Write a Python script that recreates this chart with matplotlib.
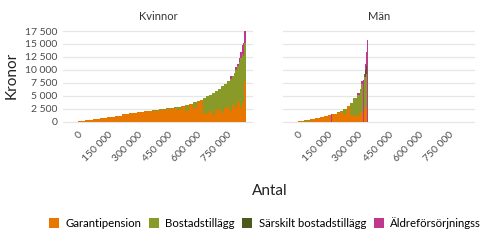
import numpy as np
import matplotlib.pyplot as plt
from matplotlib.ticker import FuncFormatter

plt.rcParams['font.family'] = ['Lato', 'DejaVu Sans']

# Kvinnor: group width (antal) and stacked amounts (kronor)
k_antal = [37000] * 13 + [19000, 20000, 20000, 20000, 20000, 20000,
                          15000, 15000, 15000, 15000, 15000, 15000, 15000, 15000, 15000, 15000,
                          12000, 10000, 10000, 10000, 8000, 8000, 8000, 8000, 7000, 6000, 7000]
k_garanti = [190, 380, 580, 770, 960, 1150, 1410, 1600, 1800, 2000, 2150, 2330, 2500,
             2650, 2300, 3000, 2000, 3350, 2600,
             3850, 4150, 1500, 1700, 2000, 1300, 2200, 2400, 1600, 2600,
             2900, 2100, 3200, 3500, 2600, 3800, 4000, 2600, 3600, 3800, 7750]
k_bostad = [0, 0, 0, 0, 0, 0, 0, 0, 0, 50, 90, 100, 130,
            100, 600, 100, 1300, 150, 1150,
            100, 100, 3050, 3200, 3250, 4300, 3800, 4000, 5250, 4750,
            5000, 6200, 5600, 5900, 7400, 6900, 7500, 9600, 9400, 8800, 7350]
k_sarskilt = [0] * 40
k_aldre = [0] * 30 + [600, 0, 0, 600, 500, 800, 1300, 1800, 2500, 2400]

# Män
m_antal = [28000, 29000, 25000, 25000, 20000, 21000, 17000, 5000, 22000, 16000, 17000,
           17000, 15000, 17000, 17000, 15000, 9000, 8000, 3000, 7000, 7000, 5000, 5000]
m_garanti = [190, 150, 510, 700, 900, 1090, 1280, 0, 1540, 1700, 1900,
             1500, 3000, 1280, 1100, 1300, 1600, 1900, 0, 2500, 2760, 2800, 0]
m_bostad = [0, 170, 0, 0, 0, 0, 0, 0, 0, 100, 150,
            870, 0, 2370, 3390, 3950, 4800, 5470, 0, 6150, 5900, 6500, 0]
m_sarskilt = [0] * 20 + [1300, 1500, 0]
m_aldre = [0] * 7 + [1500] + [0] * 7 + [200, 0, 500, 8000, 650, 1240, 2660, 15700]

serier = ['Garantipension', 'Bostadstillägg', 'Särskilt bostadstillägg', 'Äldreförsörjningsstöd']
farger = ['#E87700', '#8A9A29', '#4D5A1E', '#BE388C']
xticks = [0, 150000, 300000, 450000, 600000, 750000]
yticks = [0, 2500, 5000, 7500, 10000, 12500, 15000, 17500]

paneler = [
    ('Kvinnor', k_antal, [k_garanti, k_bostad, k_sarskilt, k_aldre]),
    ('Män', m_antal, [m_garanti, m_bostad, m_sarskilt, m_aldre]),
]

fmt = FuncFormatter(lambda v, p: f"{v:,.0f}".replace(",", " "))

fig = plt.figure(figsize=(4.8, 2.4), dpi=100)
axes = [fig.add_axes([63 / 480, 0.482, 190 / 480, 0.406]),
        fig.add_axes([283 / 480, 0.482, 192 / 480, 0.406])]

for ax, (titel, antal, delar) in zip(axes, paneler):
    antal = np.array(antal)
    left = np.concatenate([[0], np.cumsum(antal)[:-1]])
    bottom = np.zeros(len(antal))
    for vals, namn, farg in zip(delar, serier, farger):
        vals = np.array(vals, dtype=float)
        ax.bar(left, vals, width=antal, bottom=bottom, align='edge',
               color=farg, linewidth=0, label=namn)
        bottom += vals
    ax.set_xlim(-75000, 880000)
    ax.set_ylim(-500, 18300)
    ax.set_xticks(xticks)
    ax.set_yticks(yticks)
    ax.xaxis.set_major_formatter(fmt)
    ax.yaxis.set_major_formatter(fmt)
    ax.grid(axis='y', color='#E6E6E6', linewidth=0.9)
    ax.set_axisbelow(True)
    for s in ax.spines.values():
        s.set_visible(False)
    ax.tick_params(length=0, labelsize=7.5, colors='#4A4A4A', pad=4)
    plt.setp(ax.get_xticklabels(), rotation=45, ha='right', rotation_mode='anchor')
    ax.set_title(titel, fontsize=8, color='#333333', pad=5)

axes[1].tick_params(labelleft=False)

fig.text(12 / 480, 1 - 75 / 240, 'Kronor', rotation=90, ha='center', va='center',
         fontsize=11, color='#222222')
fig.text(270 / 480, 1 - 191 / 240, 'Antal', ha='center', va='center',
         fontsize=11, color='#222222')

handles, labels = axes[0].get_legend_handles_labels()
fig.legend(handles, labels, loc='center left', bbox_to_anchor=(49 / 480, 1 - 223 / 240),
           ncol=4, frameon=False, fontsize=8.2, borderpad=0, borderaxespad=0,
           handlelength=0.9, handleheight=0.9, handletextpad=0.55, columnspacing=0.65)

fig.savefig('out.png', dpi=100)
